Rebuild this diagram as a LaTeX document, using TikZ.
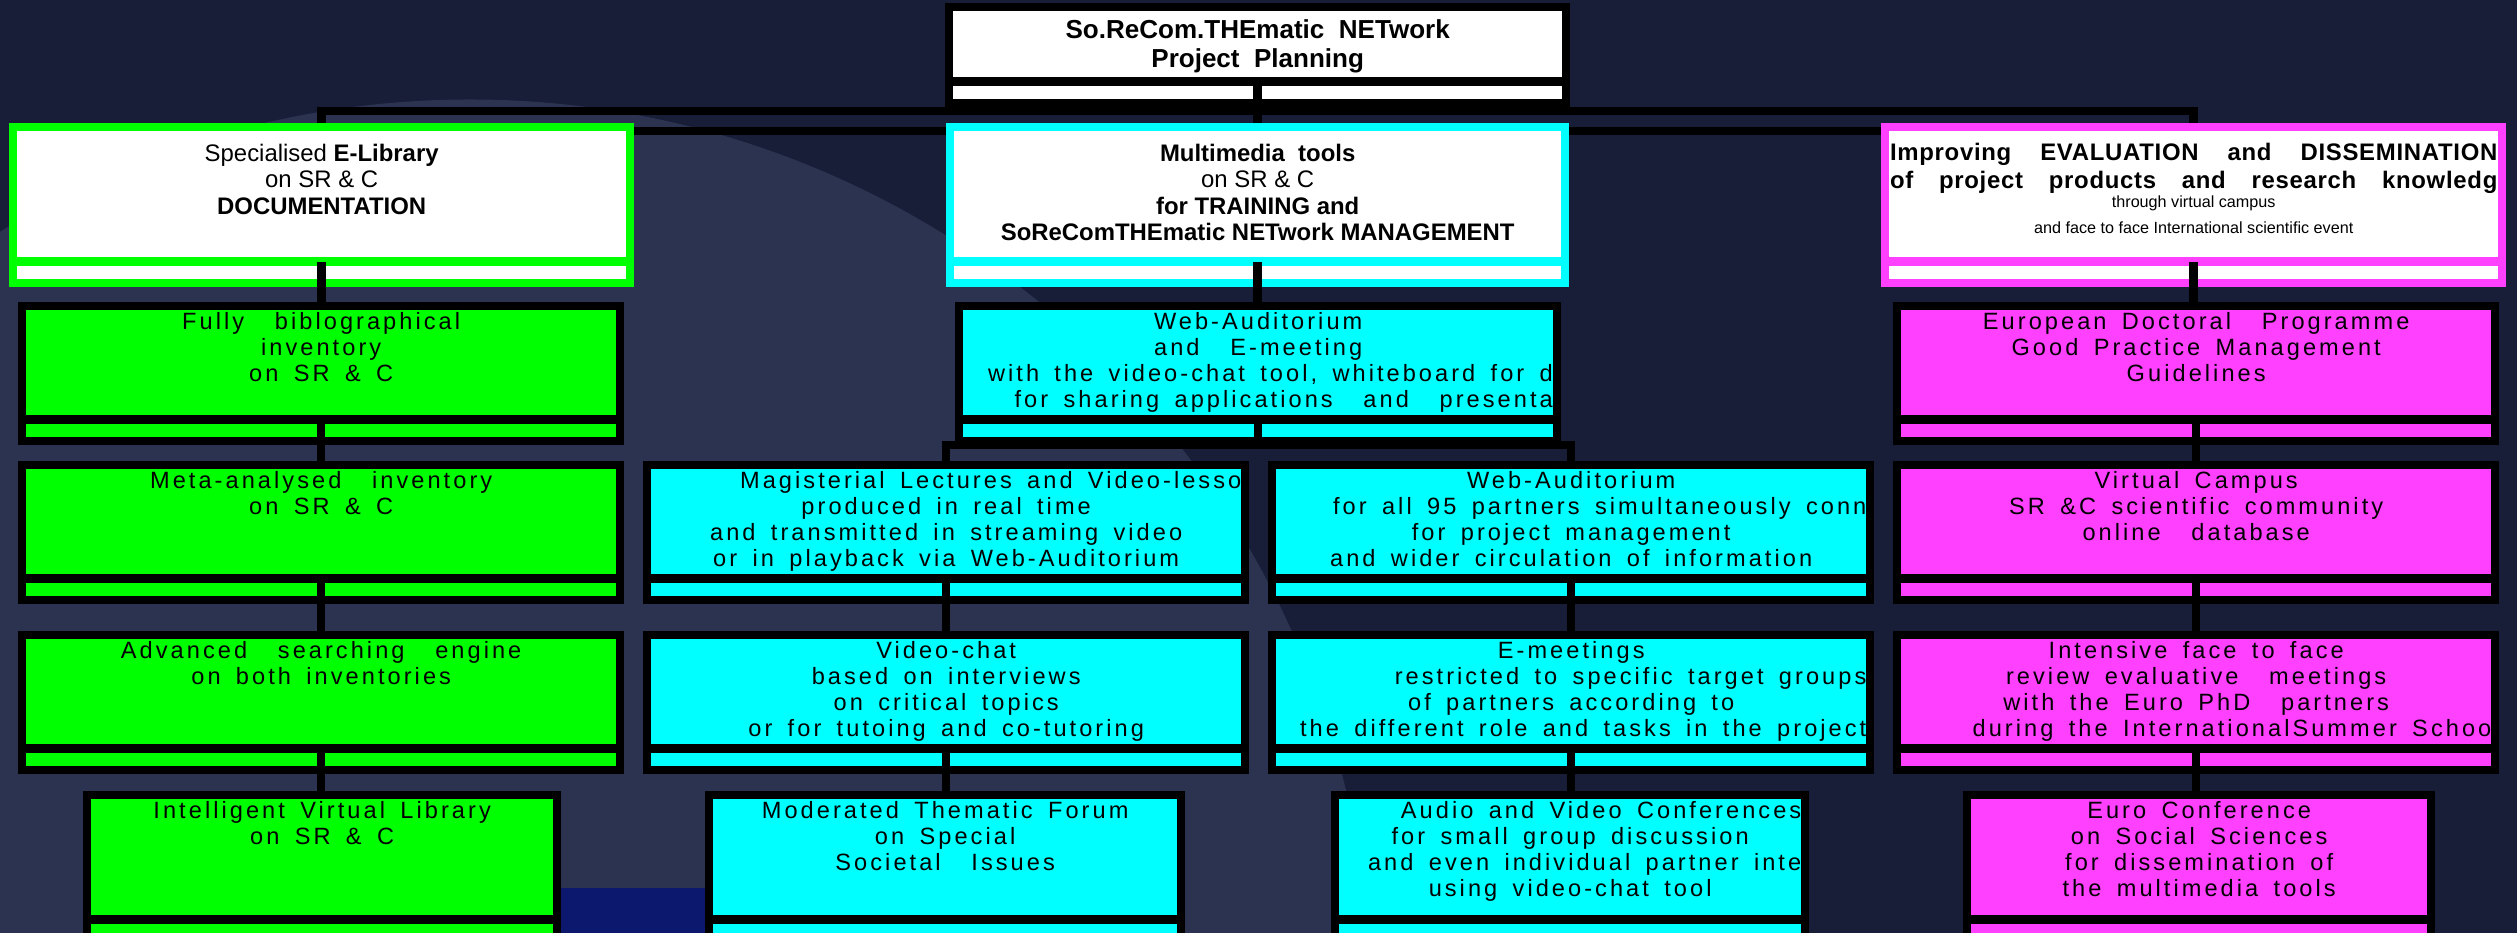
\documentclass[tikz,border=0pt]{standalone}
\usepackage{fontspec}
\setmainfont{Liberation Sans}
\newfontfamily\boxfont[LetterSpace=13,WordSpace=1.6]{Liberation Sans}
\newfontfamily\evfont[LetterSpace=3]{Liberation Sans}
\usepackage[x11names]{xcolor}
\usepackage{tikz}
\pgfdeclarelayer{background}
\pgfdeclarelayer{foreground}
\pgfsetlayers{background, main, foreground}

\definecolor{bgdark}{HTML}{181E38}
\definecolor{bglight}{HTML}{2B3350}
\definecolor{deepblue}{HTML}{0B186E}
\definecolor{libgreen}{HTML}{00FF00}
\definecolor{toolcyan}{HTML}{00FFFF}
\definecolor{evalpink}{HTML}{FF40FF}

\newcommand\lowfont{\boxfont\fontsize{6.7pt}{7.45pt}\selectfont}
\newcommand\headfont{\fontsize{6.8pt}{7.5pt}\selectfont}
\newcommand\orgtext[2]{\parbox[t]{#1}{\centering #2}}
\newcommand\rline{\hspace*{\fill}}
\newcommand\sline[1]{\makebox[\linewidth][s]{#1}}
\newcommand\boxlabel[4]{%
	\begin{scope}
		\clip ([shift={(0.08cm,-0.08cm)}]#1.north west) rectangle ([shift={(-0.08cm,0.30cm)}]#1.south east);
		\node[boxtext] (#1-txt) at ([yshift=-#2]#1.north) {\orgtext{#3}{#4}};
	\end{scope}}

\tikzset{
	conn/.style={line width=0.085cm, black},
	boxtext/.style={anchor=north, inner sep=0pt, outer sep=0pt, text=black},
	orgbox/.style 2 args={fill=#1, inner sep=0pt, outer sep=0pt, anchor=north west,
		path picture={
			\fill[#2] ([shift={(0.08cm,-0.08cm)}]path picture bounding box.north west)
				rectangle ([shift={(-0.08cm,0.30cm)}]path picture bounding box.south east);
			\fill[#2] ([shift={(0.08cm,0.08cm)}]path picture bounding box.south west)
				rectangle ([shift={(-0.08cm,0.21cm)}]path picture bounding box.south east);
		}},
	head/.style={minimum width=6.25cm, minimum height=1.64cm},
	wide/.style={minimum width=6.06cm, minimum height=1.43cm},
	narrow/.style={minimum width=4.78cm, minimum height=1.54cm},
}

\begin{document}
\begin{tikzpicture}[x=0.01cm, y=-0.01cm]
	\useasboundingbox (0,0) rectangle (2517,933);
	\begin{pgfonlayer}{background}
		\fill[bgdark] (0,0) rectangle (2517,933);
		\begin{scope}
			\clip (0,0) rectangle (2517,933);
			\fill[bglight] (470,1000) circle[x radius=9cm, y radius=9cm];
		\end{scope}
		\fill[deepblue] (561,888) rectangle (705,933);
		\draw[conn] (634,131) -- (1881,131);
	\end{pgfonlayer}

	\node[orgbox={black}{white}, minimum width=6.25cm, minimum height=1.04cm] (top) at (945,3) {};
	\node[orgbox={libgreen}{white}, head] (lib) at (9,123) {};
	\node[orgbox={toolcyan}{white}, head, minimum width=6.23cm] (mm) at (946,123) {};
	\node[orgbox={evalpink}{white}, head] (ev) at (1881,123) {};

	\node[orgbox={black}{libgreen}, wide] (lib1) at (18,302) {};
	\node[orgbox={black}{libgreen}, wide] (lib2) at (18,461) {};
	\node[orgbox={black}{libgreen}, wide] (lib3) at (18,631) {};
	\node[orgbox={black}{libgreen}, narrow] (lib4) at (83,791) {};

	\node[orgbox={black}{toolcyan}, wide] (web) at (955,302) {};
	\node[orgbox={black}{toolcyan}, wide] (mag) at (643,461) {};
	\node[orgbox={black}{toolcyan}, wide] (vc) at (643,631) {};
	\node[orgbox={black}{toolcyan}, narrow, minimum width=4.8cm] (forum) at (705,791) {};
	\node[orgbox={black}{toolcyan}, wide] (wa) at (1268,461) {};
	\node[orgbox={black}{toolcyan}, wide] (em) at (1268,631) {};
	\node[orgbox={black}{toolcyan}, narrow] (av) at (1331,791) {};

	\node[orgbox={black}{evalpink}, wide] (edp) at (1893,302) {};
	\node[orgbox={black}{evalpink}, wide] (vcamp) at (1893,461) {};
	\node[orgbox={black}{evalpink}, wide] (ift) at (1893,631) {};
	\node[orgbox={black}{evalpink}, narrow, minimum width=4.72cm] (euro) at (1963,791) {};

	\boxlabel{top}{0.17cm}{6.09cm}{\fontsize{7.4pt}{8.25pt}\selectfont\bfseries So.ReCom.THEmatic\ \ NETwork\\Project\ \ Planning}
	\boxlabel{lib}{0.21cm}{6.09cm}{\headfont Specialised \textbf{E-Library}\\on SR \& C\\\textbf{DOCUMENTATION}}
	\boxlabel{mm}{0.21cm}{6.07cm}{\headfont\textbf{Multimedia\ \ tools}\\on SR \& C\\\textbf{for TRAINING and}\\\textbf{SoReComTHEmatic NETwork MANAGEMENT}}
	\boxlabel{ev}{0.20cm}{6.07cm}{\evfont\fontsize{6.8pt}{8pt}\selectfont\bfseries
		\sline{Improving EVALUATION and DISSEMINATION}\\\sline{of project products and research knowledg}\endgraf
		\normalfont\fontsize{4.6pt}{5.3pt}\selectfont through virtual campus\endgraf
		\fontsize{4.6pt}{7.4pt}\selectfont and face to face International scientific event}

	\boxlabel{lib1}{0.1cm}{5.9cm}{\lowfont Fully\ \ biblographical\\inventory\\on SR \& C}
	\boxlabel{lib2}{0.1cm}{5.9cm}{\lowfont Meta-analysed\ \ inventory\\on SR \& C}
	\boxlabel{lib3}{0.1cm}{5.9cm}{\lowfont Advanced\ \ searching\ \ engine\\on both inventories}
	\boxlabel{lib4}{0.1cm}{4.62cm}{\lowfont Intelligent Virtual Library\\on SR \& C}

	\boxlabel{web}{0.1cm}{5.89cm}{\lowfont Web-Auditorium\\and\ \ E-meeting\\\rline with the video-chat tool, whiteboard for d\\\rline for sharing applications\ \ and\ \ presenta}
	\boxlabel{mag}{0.1cm}{5.9cm}{\lowfont\rline Magisterial Lectures and Video-lesso\\produced in real time\\and transmitted in streaming video\\or in playback via Web-Auditorium}
	\boxlabel{vc}{0.1cm}{5.9cm}{\lowfont Video-chat\\based on interviews\\on critical topics\\or for tutoing and co-tutoring}
	\boxlabel{forum}{0.1cm}{4.64cm}{\lowfont Moderated Thematic Forum\\on Special\\Societal\ \ Issues}
	\boxlabel{wa}{0.1cm}{5.9cm}{\lowfont Web-Auditorium\\\rline for all 95 partners simultaneously conn\\for project management\\and wider circulation of information}
	\boxlabel{em}{0.1cm}{5.9cm}{\lowfont E-meetings\\\rline restricted to specific target groups\\of partners according to\\\rline the different role and tasks in the project}
	\boxlabel{av}{0.1cm}{4.62cm}{\lowfont\rline Audio and Video Conferences\\for small group discussion\\\rline and even individual partner inte\\using video-chat tool}

	\boxlabel{edp}{0.1cm}{5.9cm}{\lowfont European Doctoral\ \ Programme\\Good Practice Management\\Guidelines}
	\boxlabel{vcamp}{0.1cm}{5.9cm}{\lowfont Virtual Campus\\SR \&C scientific community\\online\ \ database}
	\boxlabel{ift}{0.1cm}{5.9cm}{\lowfont Intensive face to face\\review evaluative\ \ meetings\\with the Euro PhD\ \ partners\\\rline during the InternationalSummer Schoo}
	\boxlabel{euro}{0.1cm}{4.56cm}{\lowfont Euro Conference\\on Social Sciences\\for dissemination of\\the multimedia tools}

	\coordinate (bus) at (0,111);
	\draw[conn] ([yshift=0.25cm]top.south) -- (top.south |- mm.north);
	\draw[conn] (lib.north) -- (lib.north |- bus) -| (ev.north);
	\foreach \a/\b in {lib/lib1, lib1/lib2, lib2/lib3, lib3/lib4, mm/web, mag/vc, vc/forum, wa/em, em/av, ev/edp, edp/vcamp, vcamp/ift, ift/euro}
		\draw[conn] ([yshift=0.25cm]\a.south) -- (\a.south |- \b.north);
	\draw[conn] ([yshift=0.25cm]web.south) -- (web.south);
	\draw[conn] (mag.north) |- (web.south) -| (wa.north);
\end{tikzpicture}
\end{document}
